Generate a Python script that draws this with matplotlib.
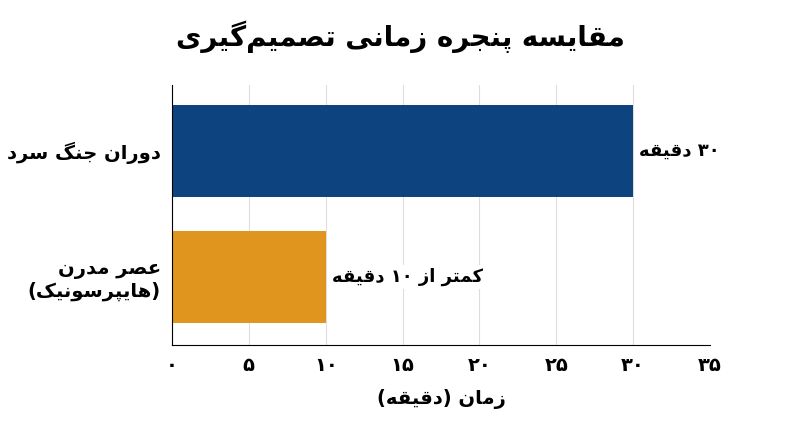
import matplotlib
matplotlib.use("Agg")
import matplotlib.pyplot as plt

FORMS = {
 'ا':('\uFE8D','\uFE8E',None,None),'د':('\uFEA9','\uFEAA',None,None),'ر':('\uFEAD','\uFEAE',None,None),
 'ز':('\uFEAF','\uFEB0',None,None),'و':('\uFEED','\uFEEE',None,None),
 'ه':('\uFEE9','\uFEEA','\uFEEB','\uFEEC'),'ب':('\uFE8F','\uFE90','\uFE91','\uFE92'),
 'ت':('\uFE95','\uFE96','\uFE97','\uFE98'),'ج':('\uFE9D','\uFE9E','\uFE9F','\uFEA0'),
 'س':('\uFEB1','\uFEB2','\uFEB3','\uFEB4'),'ص':('\uFEB9','\uFEBA','\uFEBB','\uFEBC'),
 'ع':('\uFEC9','\uFECA','\uFECB','\uFECC'),'ق':('\uFED5','\uFED6','\uFED7','\uFED8'),
 'ل':('\uFEDD','\uFEDE','\uFEDF','\uFEE0'),'م':('\uFEE1','\uFEE2','\uFEE3','\uFEE4'),
 'ن':('\uFEE5','\uFEE6','\uFEE7','\uFEE8'),'ی':('\uFBFC','\uFBFD','\uFBFE','\uFBFF'),
 'پ':('\uFB56','\uFB57','\uFB58','\uFB59'),'گ':('\uFB92','\uFB93','\uFB94','\uFB95'),
 'ک':('\uFB8E','\uFB8F','\uFB90','\uFB91'),
}
def dual(c): return c in FORMS and FORMS[c][2] is not None
def rtl(s):
    out = []
    for i, c in enumerate(s):
        if c not in FORMS:
            if c != '\u200c': out.append(c)
            continue
        p = s[i-1] if i > 0 else ''
        n = s[i+1] if i+1 < len(s) else ''
        cp = dual(p)
        cn = dual(c) and n in FORMS
        f = FORMS[c]
        out.append(f[3] if cp and cn else f[1] if cp else f[2] if cn else f[0])
    # reverse keeping digit runs
    runs, cur = [], ''
    for c in out:
        if '\u06F0' <= c <= '\u06F9':
            cur += c
        else:
            if cur: runs.append(cur); cur = ''
            runs.append({'(': ')', ')': '('}.get(c, c))
    if cur: runs.append(cur)
    return ''.join(reversed(runs))

def fa(n): return ''.join('۰۱۲۳۴۵۶۷۸۹'[int(d)] for d in str(n))

title = 'مقایسه پنجره زمانی تصمیم\u200cگیری'
categories = ['دوران جنگ سرد', 'عصر مدرن\n(هایپرسونیک)']
values = [30, 10]
annotations = ['۳۰ دقیقه', 'کمتر از ۱۰ دقیقه']
colors = ['#0d4480', '#e0961e']
xticks = [0, 5, 10, 15, 20, 25, 30, 35]
xlabel = 'زمان (دقیقه)'

plt.rcParams['font.family'] = ['DejaVu Sans']
fig = plt.figure(figsize=(8, 4.47), dpi=100)
ax = fig.add_axes([0.215, 0.228, 0.6725, 0.582])
ypos = list(range(len(values)))
ax.barh(ypos, values, height=0.73, color=colors, zorder=2)
ax.set_ylim(1.54, -0.52)
ax.set_xlim(0, 35)
ax.set_xticks(xticks)
ax.set_xticklabels([fa(t) for t in xticks], fontsize=14, fontweight='bold')
ax.set_yticks(ypos)
ax.set_yticklabels(['\n'.join(rtl(l) for l in c.split('\n')) for c in categories],
                   fontsize=14, fontweight='bold', ha='right')
ax.tick_params(length=0, pad=8)
ax.grid(axis='x', color='#dddddd', zorder=0)
for s in ['top', 'right']:
    ax.spines[s].set_visible(False)
for s in ['left', 'bottom']:
    ax.spines[s].set_color('black')
for y, v, a in zip(ypos, values, annotations):
    ax.text(v + 0.4, y, rtl(a), va='center', ha='left', fontsize=13, fontweight='bold',
            bbox=dict(facecolor='white', edgecolor='none', pad=2), zorder=3)
ax.set_xlabel(rtl(xlabel), fontsize=14, fontweight='bold', labelpad=10)
fig.suptitle(rtl(title), fontsize=20, fontweight='bold', y=0.955)
fig.savefig('out.png', dpi=100)
